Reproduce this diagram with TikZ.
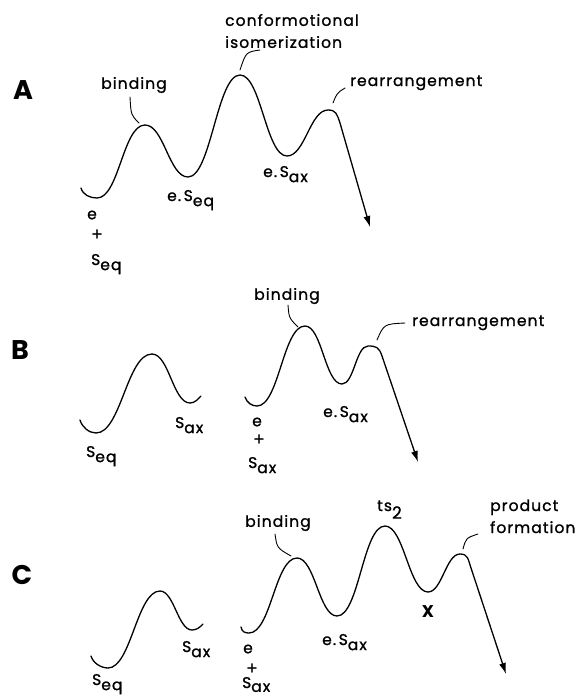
\documentclass[tikz,border=0pt]{standalone}
\usepackage{fontspec}
\setmainfont{Poppins}[LetterSpace=7,FakeBold=1.2]
\newfontfamily\pfont{Poppins}
\usetikzlibrary{arrows.meta}
\newcommand\lowsub[1]{\raisebox{-0.33em}{#1}}
\begin{document}
\begin{tikzpicture}[x=1pt,y=-1pt,
  curve/.style={line width=1.3pt,line cap=round,line join=round},
  leader/.style={line width=0.9pt,line cap=round},
  arr/.style={-{Latex[length=11pt,width=7pt]}},
  lbl/.style={inner sep=0pt,font=\fontsize{15.5}{22}\selectfont},
  panel/.style={inner sep=0pt,font=\pfont\fontsize{27}{30}\selectfont\bfseries}]
\useasboundingbox (0,0) rectangle (579,697);
% ---------------- Panel A ----------------
\node[panel] (pA) at (23,90) {A};
\coordinate (a0) at (81,188);
\coordinate (a1) at (97,198);
\coordinate (a2) at (145,125);
\coordinate (a3) at (188,177);
\coordinate (a4) at (240,75);
\coordinate (a5) at (287,156);
\coordinate (a6) at (328,110);
\coordinate (a7) at (340,123);
\coordinate (atip) at (370,227);
\draw[curve,arr] (a0) .. controls +(2,7) and +(-7,0) .. (a1)
  .. controls +(22,0) and +(-22,0) .. (a2)
  .. controls +(19,0) and +(-19,0) .. (a3)
  .. controls +(23,0) and +(-23,0) .. (a4)
  .. controls +(21,0) and +(-21,0) .. (a5)
  .. controls +(18,0) and +(-18,0) .. (a6)
  .. controls +(8,0) and +(-3,-9) .. (a7) -- (atip);
\node[lbl] (abind) at (134,85) {binding};
\coordinate (abL1) at (130,97); \coordinate (abL2) at (139,123);
\draw[leader] (abL1) .. controls (131,115) .. (abL2);
\node[lbl,anchor=west,align=left] (aconf) at (225,31) {conformotional\\isomerization};
\coordinate (acL1) at (260,50); \coordinate (acL2) at (240,70);
\draw[leader] (acL1) .. controls (246,52) .. (acL2);
\node[lbl,anchor=base west] (arear) at (350,86) {rearrangement};
\coordinate (arL1) at (345,88); \coordinate (arL2) at (333,103);
\draw[leader] (arL1) .. controls (337,93) .. (arL2);
\node[lbl,anchor=base west] (aeseq) at (167,201) {e.\,S\lowsub{eq}};
\node[lbl,anchor=base west] (aesax) at (263,177) {e.\,S\lowsub{ax}};
\node[lbl] (ae) at (92,215) {e};
\node[lbl,font=\fontsize{17}{20}\selectfont] (aplus) at (97,235) {+};
\node[lbl,anchor=base west] (aseq) at (91,265) {S\lowsub{eq}};
% ---------------- Panel B ----------------
\node[panel] (pB) at (20,350) {B};
\coordinate (l0) at (80,420);
\coordinate (l1) at (96,433);
\coordinate (l2) at (152,354);
\coordinate (l3) at (190,403);
\coordinate (l4) at (201,396);
\draw[curve] (l0) .. controls +(2,7) and +(-7,0) .. (l1)
  .. controls +(25,0) and +(-25,0) .. (l2)
  .. controls +(17,0) and +(-17,0) .. (l3)
  .. controls +(5,0) and +(-3,3) .. (l4);
\node[lbl,anchor=base west] (bseq) at (86,457) {S\lowsub{eq}};
\node[lbl,anchor=base west] (bsax) at (175,428) {S\lowsub{ax}};
\coordinate (b0) at (245,397);
\coordinate (b1) at (257,406);
\coordinate (b2) at (305,326);
\coordinate (b3) at (342,384);
\coordinate (b4) at (368,346);
\coordinate (b5) at (382,356);
\coordinate (btip) at (418,462);
\draw[curve,arr] (b0) .. controls +(2,6) and +(-5,0) .. (b1)
  .. controls +(22,0) and +(-22,0) .. (b2)
  .. controls +(17,0) and +(-17,0) .. (b3)
  .. controls +(12,0) and +(-12,0) .. (b4)
  .. controls +(8,0) and +(-3,-9) .. (b5) -- (btip);
\node[lbl] (bbind) at (287,296) {binding};
\coordinate (bbL1) at (288,305); \coordinate (bbL2) at (298,327);
\draw[leader] (bbL1) .. controls (289,318) .. (bbL2);
\node[lbl,anchor=base west] (brear) at (412,326) {rearrangement};
\coordinate (brL1) at (377,340); \coordinate (brL2) at (405,323);
\draw[leader] (brL1) .. controls (384,324) .. (brL2);
\node[lbl,anchor=base west] (besax) at (323,417) {e.\,S\lowsub{ax}};
\node[lbl] (be) at (257,422) {e};
\node[lbl,font=\fontsize{17}{20}\selectfont] (bplus) at (259,440) {+};
\node[lbl,anchor=base west] (bsax2) at (248,468) {S\lowsub{ax}};
% ---------------- Panel C ----------------
\node[panel] (pC) at (22,575) {C};
\coordinate (m0) at (91,656);
\coordinate (m1) at (108,668);
\coordinate (m2) at (160,591);
\coordinate (m3) at (192,630);
\coordinate (m4) at (203,624);
\draw[curve] (m0) .. controls +(2,7) and +(-7,0) .. (m1)
  .. controls +(23,0) and +(-23,0) .. (m2)
  .. controls +(14,0) and +(-14,0) .. (m3)
  .. controls +(5,0) and +(-3,3) .. (m4);
\node[lbl,anchor=base west] (cseq) at (92,685) {S\lowsub{eq}};
\node[lbl,anchor=base west] (csax) at (182,652) {S\lowsub{ax}};
\coordinate (c0) at (241,627);
\coordinate (c1) at (249,633);
\coordinate (c2) at (297,558);
\coordinate (c3) at (337,616);
\coordinate (c4) at (385,526);
\coordinate (c5) at (428,592);
\coordinate (c6) at (460,554);
\coordinate (c7) at (471,568);
\coordinate (ctip) at (506,674);
\draw[curve,arr] (c0) .. controls +(1,5) and +(-4,0) .. (c1)
  .. controls +(22,0) and +(-22,0) .. (c2)
  .. controls +(18,0) and +(-18,0) .. (c3)
  .. controls +(22,0) and +(-22,0) .. (c4)
  .. controls +(19,0) and +(-19,0) .. (c5)
  .. controls +(14,0) and +(-14,0) .. (c6)
  .. controls +(8,0) and +(-3,-9) .. (c7) -- (ctip);
\node[lbl] (cbind) at (278,523) {binding};
\coordinate (cbL1) at (275,534); \coordinate (cbL2) at (291,556);
\draw[leader] (cbL1) .. controls (277,548) .. (cbL2);
\node[lbl,anchor=base west] (cts) at (377,511) {ts\raisebox{-0.5em}{\fontsize{17}{20}\selectfont 2}};
\node[lbl,anchor=base west,align=left] (cprod) at (490,533) {product\\formation};
\coordinate (cpL1) at (463,549); \coordinate (cpL2) at (478,534);
\draw[leader] (cpL1) .. controls (466,538) .. (cpL2);
\node[inner sep=0pt,font=\pfont\fontsize{17}{18}\selectfont\bfseries] (cx) at (428,612) {X};
\node[lbl,anchor=base west] (cesax) at (322,645) {e.\,S\lowsub{ax}};
\node[lbl] (ce) at (248,649) {e};
\node[lbl,font=\fontsize{17}{20}\selectfont] (cplus) at (252,669) {+};
\node[lbl,anchor=base west] (csax2) at (242,688) {S\raisebox{-0.25em}{ax}};
\end{tikzpicture}
\end{document}
